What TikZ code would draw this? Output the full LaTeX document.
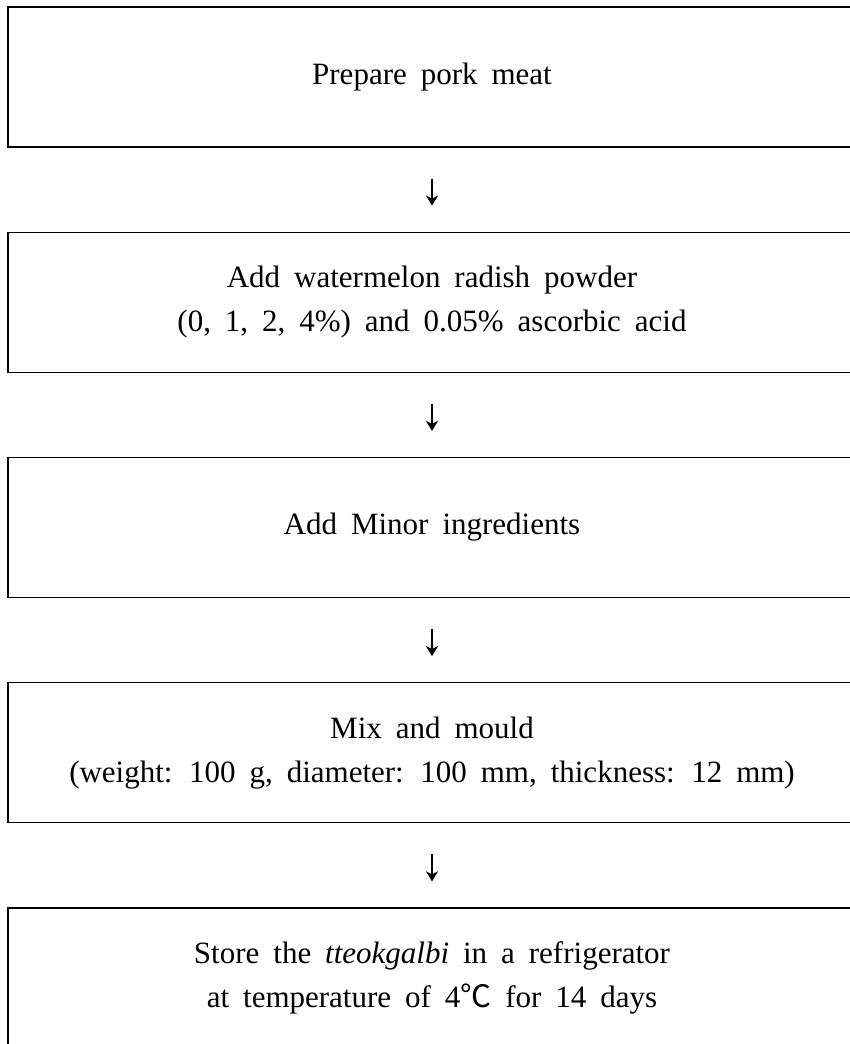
\documentclass[tikz,border=0pt]{standalone}
\usepackage{fontspec}
\setmainfont{Liberation Serif}[WordSpace=1.8]
\newfontfamily\cjk{Noto Sans CJK SC}
\usetikzlibrary{arrows,arrows.meta,positioning}

\begin{document}
\begin{tikzpicture}[->,>={Stealth[length=10pt,width=12pt,inset=3pt]},shorten >=26pt,shorten <=31pt,auto,
                    node distance=225.25pt,line width=1.3pt]
  \tikzstyle{stepbox}=[draw,rectangle,minimum width=848pt,minimum height=140pt,align=center,
                       font=\fontsize{31}{44}\selectfont]
  \useasboundingbox (0pt,0pt) rectangle (849pt,-1044pt);

  \node[stepbox]	(A) at (432pt,-77pt)	{Prepare pork meat};
  \node[stepbox]	(B) [below of=A]	{Add watermelon radish powder\\(0, 1, 2, 4\%) and 0.05\% ascorbic acid};
  \node[stepbox]	(C) [below of=B]	{Add Minor ingredients};
  \node[stepbox]	(D) [below of=C]	{Mix and mould\\(weight: 100 g, diameter: 100 mm, thickness: 12 mm)};
  \node[stepbox]	(E) [below of=D]	{Store the \textit{tteokgalbi} in a refrigerator\\at temperature of 4{\cjk ℃} for 14 days};

  \path[line width=2pt] (A) edge (B);
  \path[line width=2pt] (B) edge (C);
  \path[line width=2pt] (C) edge (D);
  \path[line width=2pt] (D) edge (E);

\end{tikzpicture}
\end{document}
